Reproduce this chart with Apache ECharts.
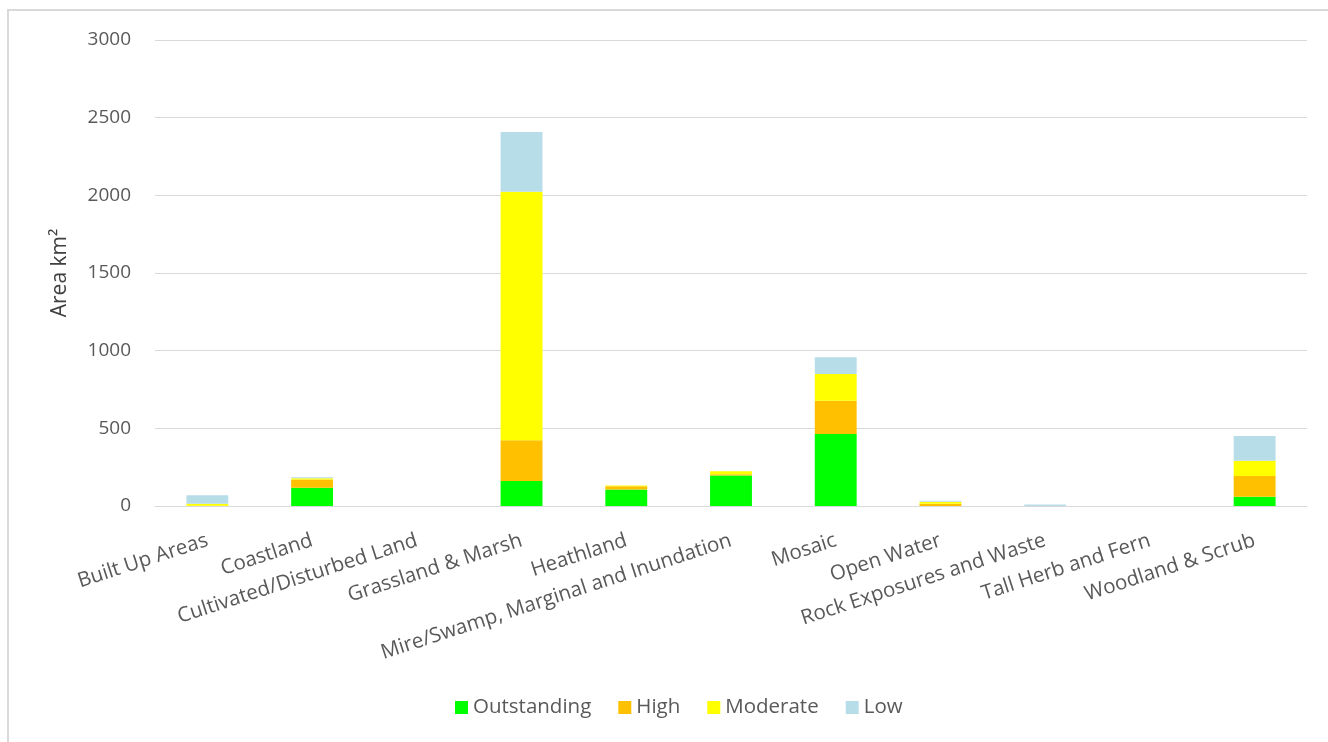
<!DOCTYPE html>
<html><head><meta charset="utf-8">
<script src="https://cdn.jsdelivr.net/npm/echarts@6/dist/echarts.min.js"></script>
<style>
html,body{margin:0;padding:0;background:#fff;overflow:hidden;}
#frame{position:absolute;left:7px;top:9px;width:1330px;height:740px;border-top:2px solid #d9d9d9;border-left:2px solid #d9d9d9;box-sizing:border-box;}
#chart{position:absolute;left:0;top:0;width:1328px;height:742px;}
</style></head>
<body>
<div id="frame"></div>
<div id="chart"></div>
<script>
const categories = ["Built Up Areas","Coastland","Cultivated/Disturbed Land","Grassland & Marsh","Heathland","Mire/Swamp, Marginal and Inundation","Mosaic","Open Water","Rock Exposures and Waste","Tall Herb and Fern","Woodland & Scrub"];
const outstanding = [0, 118, 0, 161, 107, 197, 463, 0, 0, 0, 60];
const high        = [2, 52, 0, 263, 20, 8, 214, 14, 0, 0, 133];
const moderate    = [12, 8, 0, 1599, 5, 18, 173, 14, 0, 0, 98];
const low         = [55, 7, 0, 385, 0, 0, 107, 6, 10, 0, 159];
const seriesNames = ["Outstanding","High","Moderate","Low"];
const colors = ["#00ff00","#ffc000","#ffff00","#b7dde8"];
const yTicks = {min:0, max:3000, interval:500};

const font = "'Open Sans', sans-serif";
const chart = echarts.init(document.getElementById('chart'));
const data = [outstanding, high, moderate, low];
chart.setOption({
  animation:false,
  textStyle:{fontFamily:font},
  grid:{left:155, right:21, top:40, bottom:236, containLabel:false},
  legend:{bottom:19, left:450, itemWidth:13, itemHeight:13, itemGap:27,
    textStyle:{fontSize:20.5, color:'#595959', fontFamily:font},
    data: seriesNames.map(n=>({name:n, icon:'rect'}))},
  xAxis:{type:'category', data:categories,
    axisLine:{lineStyle:{color:'#d9d9d9'}}, axisTick:{show:false},
    axisLabel:{rotate:18, interval:0, fontSize:20.5, color:'#595959', fontFamily:font, margin:34}},
  yAxis:{type:'value', min:yTicks.min, max:yTicks.max, interval:yTicks.interval,
    name:'Area km²', nameLocation:'middle', nameGap:84, nameTextStyle:{fontSize:21, color:'#404040', fontFamily:font},
    axisLine:{show:false}, axisTick:{show:false},
    axisLabel:{fontSize:19, color:'#595959', fontFamily:font, margin:24, formatter:v=>String(v)},
    splitLine:{lineStyle:{color:'#d9d9d9'}}},
  series: seriesNames.map((n,i)=>({name:n, type:'bar', stack:'a', data:data[i], barWidth:'40%',
    itemStyle:{color:colors[i]}}))
});
</script>
</body></html>
